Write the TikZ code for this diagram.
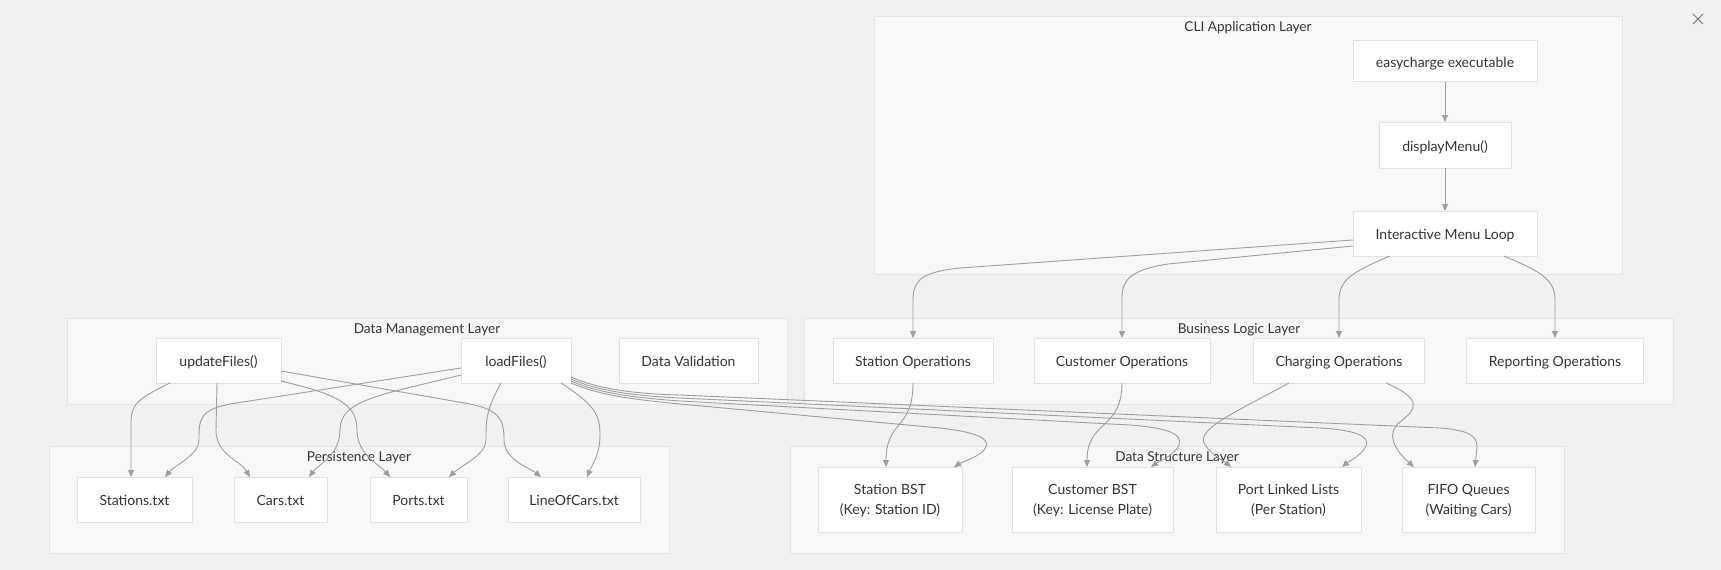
\documentclass[tikz,border=0pt]{standalone}
\usepackage{fontspec}
\setmainfont{Lato}
\usetikzlibrary{arrows.meta,calc}
\definecolor{bg}{HTML}{F2F1F0}
\definecolor{clfill}{HTML}{F7F7F7}
\definecolor{cldraw}{HTML}{E4E4E4}
\definecolor{nddraw}{HTML}{E2E2E2}
\definecolor{edgec}{HTML}{9E9E9E}
\definecolor{txt}{HTML}{333333}
\begin{document}
\begin{tikzpicture}[x=1pt,y=-1pt,
  cluster/.style={draw=cldraw, fill=clfill, line width=1pt, inner sep=0pt, outer sep=0pt, anchor=north west},
  cltitle/.style={text=txt, font=\fontsize{13.6}{16}\selectfont, inner sep=0pt, anchor=base},
  box/.style={draw=nddraw, fill=white, line width=1pt, text=txt, font=\fontsize{14}{20}\selectfont, inner sep=0pt, outer sep=0pt, align=center, text height=15.4pt, text depth=3pt},
  box2/.style={box, text height=32.4pt, text depth=3pt},
  conn/.style={draw=edgec, line width=0.9pt, -{Triangle[length=7pt,width=6pt]}},
]
\useasboundingbox (0,0) rectangle (1721,570);
\fill[bg] (0,0) rectangle (1721,570);

% clusters
\node[cluster, minimum width=748pt, minimum height=258pt] (cli) at (874,16) {};
\node[cltitle] (clit) at (1248,31) {CLI Application Layer};
\node[cluster, minimum width=720pt, minimum height=86pt] (dml) at (67,318) {};
\node[cltitle] (dmlt) at (427,333.5) {Data Management Layer};
\node[cluster, minimum width=869pt, minimum height=86pt] (bll) at (804,318) {};
\node[cltitle] (bllt) at (1239,333.5) {Business Logic Layer};
\node[cluster, minimum width=620pt, minimum height=107pt] (pl) at (49,446) {};
\node[cltitle] (plt) at (359,461.5) {Persistence Layer};
\node[cluster, minimum width=774pt, minimum height=107pt] (dsl) at (790,446) {};
\node[cltitle] (dslt) at (1177,461.5) {Data Structure Layer};

% CLI nodes
\node[box, minimum width=184pt, minimum height=41pt] (easy) at (1445,61) {easycharge executable};
\node[box, minimum width=132pt, minimum height=46pt] (disp) at (1445,145) {displayMenu()};
\node[box, minimum width=184pt, minimum height=45pt] (loop) at (1445,233.5) {Interactive Menu Loop};

% data management
\node[box, minimum width=125pt, minimum height=45pt] (upd) at (218.5,360.5) {updateFiles()};
\node[box, minimum width=110pt, minimum height=45pt] (load) at (516,360.5) {loadFiles()};
\node[box, minimum width=139pt, minimum height=45pt] (valid) at (688.5,360.5) {Data Validation};

% business logic
\node[box, minimum width=160pt, minimum height=45pt] (stOps) at (913,360.5) {Station Operations};
\node[box, minimum width=176pt, minimum height=45pt] (cuOps) at (1122,360.5) {Customer Operations};
\node[box, minimum width=171pt, minimum height=45pt] (chOps) at (1339,360.5) {Charging Operations};
\node[box, minimum width=177pt, minimum height=45pt] (repOps) at (1555,360.5) {Reporting Operations};

% persistence
\node[box, minimum width=115pt, minimum height=45pt] (stf) at (134.5,499.5) {Stations.txt};
\node[box, minimum width=93pt, minimum height=45pt] (carf) at (280.5,499.5) {Cars.txt};
\node[box, minimum width=97pt, minimum height=45pt] (portf) at (418.5,499.5) {Ports.txt};
\node[box, minimum width=132pt, minimum height=45pt] (linef) at (574,499.5) {LineOfCars.txt};

% data structures
\node[box2, minimum width=144pt, minimum height=65pt] (stBST) at (890,499.5) {Station BST\\(Key: Station ID)};
\node[box2, minimum width=161pt, minimum height=65pt] (cuBST) at (1092.5,499.5) {Customer BST\\(Key: License Plate)};
\node[box2, minimum width=145pt, minimum height=65pt] (plBST) at (1288.5,499.5) {Port Linked Lists\\(Per Station)};
\node[box2, minimum width=133pt, minimum height=65pt] (fifo) at (1468.5,499.5) {FIFO Queues\\(Waiting Cars)};

% CLI edges
\draw[conn] (easy.south) -- (disp.north);
\draw[conn] (disp.south) -- (loop.north);
\draw[conn] ($(loop.west)+(0,6.5)$) -- (960,268) .. controls (922,272) and (913,280) .. (913,300) -- (stOps.north);
\draw[conn] ($(loop.west)+(0,12.5)$) -- (1168,264) .. controls (1130,270) and (1122,280) .. (1122,298) -- (cuOps.north);
\draw[conn] ($(loop.south)+(-55,0)$) .. controls (1352,272) and (1339,280) .. (1339,300) -- (chOps.north);
\draw[conn] ($(loop.south)+(59,0)$) .. controls (1542,272) and (1555,280) .. (1555,300) -- (repOps.north);

% business -> data structures
\draw[conn] (stOps.south) .. controls (913,430) and (886,420) .. ($(stBST.north)+(-4,0)$);
\draw[conn] (cuOps.south) .. controls (1122,430) and (1087,420) .. ($(cuBST.north)+(-5.5,0)$);
\draw[conn] ($(chOps.south)+(-50,0)$) .. controls (1230,415) and (1195,430) .. (1205,445) .. controls (1212,455) and (1225,462) .. ($(plBST.north)+(-57.5,0)$);
\draw[conn] ($(chOps.south)+(47,0)$) .. controls (1425,400) and (1415,410) .. (1400,422) .. controls (1385,434) and (1395,450) .. ($(fifo.north)+(-54.5,0)$);

% updateFiles -> files
\draw[conn] ($(upd.south)+(-48.5,0)$) .. controls (135,400) and (131,405) .. (131,425) -- ($(stf.north)+(-3.5,0)$);
\draw[conn] ($(upd.south)+(-1.5,0)$) -- (216,430) .. controls (216,455) and (240,460) .. ($(carf.north)+(-30.5,0)$);
\draw[conn] ($(upd.east)+(0,20.5)$) .. controls (340,395) and (357,405) .. (357,430) .. controls (357,455) and (380,465) .. ($(portf.north)+(-28.5,0)$);
\draw[conn] ($(upd.east)+(0,10.5)$) -- (470,404) .. controls (500,410) and (504,420) .. (504,440) .. controls (504,460) and (530,468) .. ($(linef.north)+(-33,0)$);

% loadFiles -> files
\draw[conn] ($(load.west)+(0,7.5)$) -- (230,404) .. controls (199,410) and (199,420) .. (199,440) .. controls (199,455) and (175,465) .. ($(stf.north)+(30.5,0)$);
\draw[conn] ($(load.west)+(0,14.5)$) .. controls (380,395) and (340,400) .. (340,430) .. controls (340,455) and (318,465) .. ($(carf.north)+(28.5,0)$);
\draw[conn] ($(load.south)+(-15,0)$) .. controls (486,410) and (486,420) .. (486,440) .. controls (486,455) and (462,465) .. ($(portf.north)+(30.5,0)$);
\draw[conn] ($(load.south)+(45,0)$) .. controls (595,405) and (600,415) .. (600,435) .. controls (600,455) and (592,465) .. ($(linef.north)+(13,0)$);

% loadFiles -> data structures
\draw[conn] ($(load.south east)+(0,0)$) .. controls (600,396) and (640,400) .. (680,404) -- (940,428) .. controls (975,432) and (990,438) .. (986,447) .. controls (982,456) and (962,462) .. ($(stBST.north)+(64,0)$);
\draw[conn] ($(load.south east)+(0,-2)$) .. controls (600,394) and (640,398) .. (680,401) -- (1130,425) .. controls (1168,428) and (1183,434) .. (1179,445) .. controls (1175,455) and (1158,462) .. ($(cuBST.north)+(58.5,0)$);
\draw[conn] ($(load.south east)+(0,-4)$) .. controls (600,392) and (640,396) .. (680,398) -- (1320,428) .. controls (1355,430) and (1370,436) .. (1366,446) .. controls (1362,455) and (1348,462) .. ($(plBST.north)+(53.5,0)$);
\draw[conn] ($(load.south east)+(0,-6)$) .. controls (600,390) and (640,394) .. (680,395) -- (1440,428) .. controls (1468,430) and (1477,436) .. (1477,446) -- ($(fifo.north)+(6.5,0)$);

% close icon
\draw[draw=black!55, line width=0.8pt] (1693,14) -- (1703,24) (1703,14) -- (1693,24);
\end{tikzpicture}
\end{document}
